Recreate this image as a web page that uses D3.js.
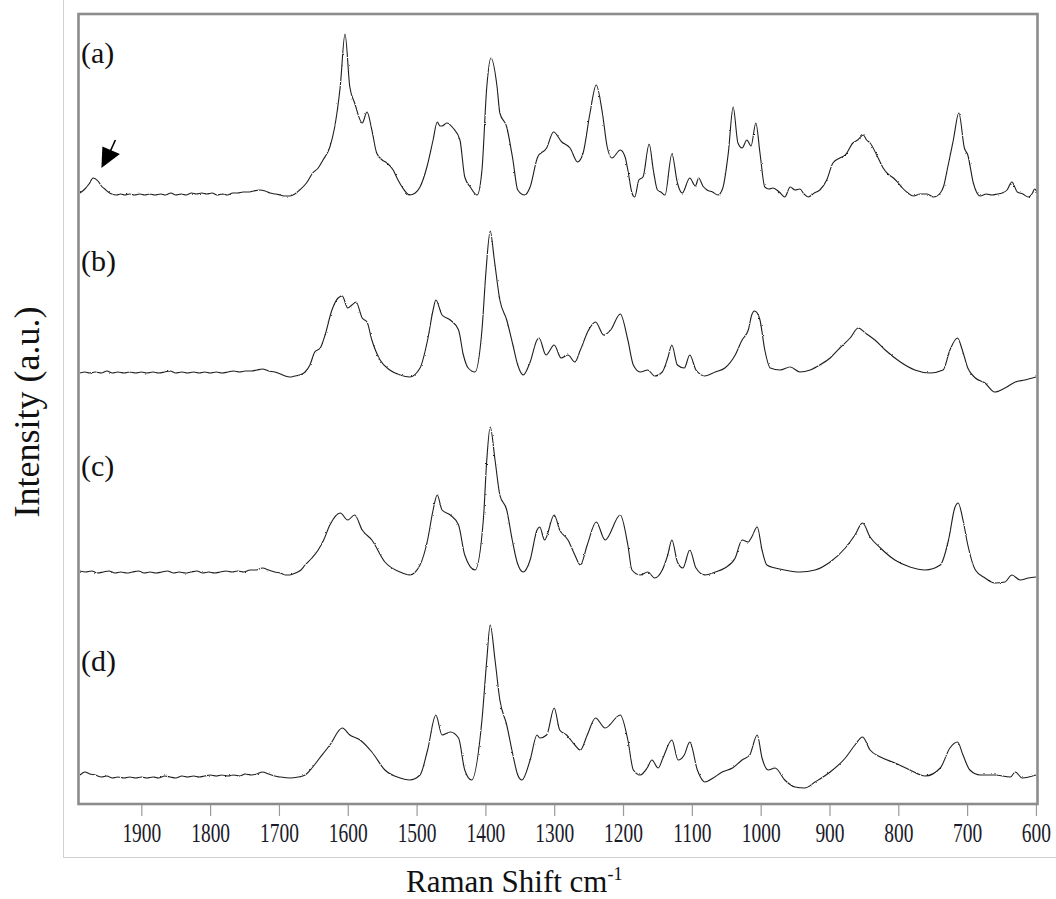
<!DOCTYPE html>
<html>
<head>
<meta charset="utf-8">
<script src="https://cdn.jsdelivr.net/npm/d3@7"></script>
<style>
  body { margin: 0; background: #fff; }
  text { font-family: "Liberation Serif", "Times New Roman", serif; }
</style>
</head>
<body>
<svg id="chart" width="1056" height="899"></svg>
<script>
// Raman spectra (a)–(d): [wavenumber cm-1, intensity a.u. above each trace's own baseline]
const tickValues = [1900, 1800, 1700, 1600, 1500, 1400, 1300, 1200, 1100, 1000, 900, 800, 700, 600];
const panelLabels = ["(a)", "(b)", "(c)", "(d)"];
const stackOffsets = [304, 214, 114, 12];

const spectrumA = [
  [1989,1.5],[1982,3.5],[1976,6],[1970,9],[1963,7.5],[1958,5],[1953,3.5],[1948,2],[1943,1],[1936,0.5],
  [1930,1],[1924,0.5],[1917,1],[1910,0.5],[1902,1],[1895,0.5],[1888,1],[1880,0.5],[1872,1],[1865,0.5],
  [1857,1.5],[1850,0.5],[1842,1],[1835,0.5],[1827,1.5],[1820,1],[1812,1.5],[1805,1],[1797,1.5],[1790,0.5],
  [1782,1],[1775,0.5],[1767,1.5],[1760,1.5],[1752,2],[1745,2],[1737,2.5],[1728,3],[1720,2.5],[1713,1.5],
  [1705,1],[1698,0.5],[1691,0],[1684,0],[1677,1],[1670,3],[1660,6.5],[1651,11.5],[1643,14],[1636,18],
  [1626,24.5],[1619,34.5],[1611,54.5],[1604,81],[1597,54.5],[1590,46.5],[1579,36.5],[1572,42],[1565,33],[1558,21.5],
  [1550,18],[1543,16.5],[1534,13],[1527,8],[1521,4.5],[1510,0.5],[1502,1.5],[1495,4.5],[1485,14.5],[1476,28],
  [1470,37],[1466,35],[1463,35],[1456,36.5],[1447,34],[1437,28],[1430,9.5],[1422,4.5],[1412,0.5],[1405,13],
  [1398,54.5],[1392,69],[1383,54.5],[1379,41.5],[1369,34.5],[1360,18],[1353,3],[1343,0.5],[1335,4.5],[1324,19.5],
  [1311,24],[1301,32],[1289,27],[1277,24],[1266,17],[1258,21.5],[1248,41.5],[1239,55.5],[1230,41.5],[1223,24.5],
  [1216,19],[1204,23],[1197,19.5],[1193,13],[1187,1.5],[1183,-0.5],[1177,8],[1171,9.5],[1162,26],[1156,13],
  [1150,3],[1145,2],[1139,0.5],[1129,21],[1121,6.5],[1114,1.5],[1103,9],[1095,5],[1090,9],[1084,5],
  [1078,3],[1070,2],[1062,0.5],[1055,4],[1047,21.5],[1040,44.5],[1033,26.5],[1027,24],[1020,28],[1014,25],
  [1007,36.5],[1001,21.5],[994,4.5],[988,3.5],[982,4],[973,2],[965,-0.5],[957,4.5],[950,3],[943,3.5],
  [937,1],[931,-0.5],[922,1.5],[914,3],[904,8],[895,16.5],[885,19],[877,20.5],[866,26.5],[859,28],
  [851,30.5],[846,28],[841,26.5],[830,19.5],[822,14],[815,11],[807,9],[800,6.5],[794,4],[786,1.5],
  [778,0],[768,1],[758,1],[749,-0.5],[739,1.5],[734,5],[729,13],[720,28],[712,41.5],[704,24],
  [699,20.5],[691,6.5],[681,0],[672,1],[664,0.5],[656,1],[649,1.5],[642,3],[635,7],[627,2],
  [619,1],[611,-0.5],[605,1.5],[602,3.5],[598,1.5]
];

const spectrumB = [
  [1989,1.5],[1982,2],[1975,1.5],[1967,2],[1958,1.5],[1950,2.5],[1942,1.5],[1934,2],[1925,1.5],[1917,2],
  [1908,1.5],[1900,2],[1892,1.5],[1883,2],[1875,1.5],[1866,2],[1858,2.5],[1850,1.5],[1841,2],[1833,1.5],
  [1824,2],[1816,1.5],[1808,2],[1800,1.5],[1791,2],[1783,1.5],[1774,2],[1766,2.5],[1757,2],[1749,2.5],
  [1740,2.5],[1732,3],[1724,3.5],[1715,2.5],[1706,2],[1698,1],[1691,0],[1684,-0.5],[1677,0],[1670,0.5],
  [1662,2],[1655,5.5],[1648,12],[1640,14],[1633,20.5],[1623,33],[1614,39],[1608,40],[1600,34],[1594,35.5],
  [1588,37],[1579,29],[1572,27],[1565,18],[1553,8],[1539,3],[1524,0.5],[1510,-0.5],[1495,4],[1484,18],
  [1476,33],[1472,38],[1463,30.5],[1451,28],[1439,23],[1432,10.5],[1425,4],[1415,2],[1405,23],[1399,53],
  [1393,72.5],[1387,58],[1379,38],[1369,28],[1360,15.5],[1353,5.5],[1345,0.5],[1335,7],[1325,18],[1322,19],
  [1312,10.5],[1300,15.5],[1290,9],[1280,10.5],[1270,7],[1262,13],[1250,23],[1240,27],[1228,20.5],[1218,23],
  [1204,31],[1193,18],[1185,5.5],[1175,2],[1164,3],[1154,0],[1143,2],[1135,9],[1129,15.5],[1121,5.5],
  [1111,4],[1103,10.5],[1094,3],[1081,0],[1066,2],[1052,4],[1037,10.5],[1027,18],[1018,23],[1013,30.5],
  [1009,32.5],[1005,31.5],[1001,28],[994,13],[986,4],[972,3],[957,4.5],[943,2],[928,3],[914,5.5],
  [899,9],[885,14],[870,19],[858,24],[848,21.5],[834,18],[819,13],[797,7],[776,3],[754,1.5],
  [735,3],[725,13],[714,19],[707,13],[699,4],[688,-1],[674,-3.5],[660,-8],[645,-6],[630,-3],
  [616,-2],[600,-0.5]
];

const spectrumC = [
  [1989,2.5],[1981,2],[1972,2.5],[1964,1.5],[1955,2],[1947,2.5],[1938,1.5],[1930,2],[1921,1.5],[1913,2],
  [1904,2.5],[1896,1.5],[1887,2],[1879,1.5],[1870,2],[1862,2.5],[1853,1.5],[1845,2],[1836,1.5],[1828,2],
  [1819,2.5],[1811,1.5],[1802,2],[1794,1.5],[1785,2],[1777,2.5],[1768,2],[1760,2.5],[1751,2],[1742,3],
  [1733,3],[1724,4],[1715,3],[1706,2],[1698,1.5],[1690,0.5],[1684,0.5],[1676,1.5],[1668,3],[1662,5.5],
  [1652,9],[1643,13],[1635,18],[1626,25.5],[1611,31.5],[1600,28],[1590,30.5],[1579,23],[1565,18],[1546,7],
  [1524,2],[1510,0.5],[1495,5.5],[1484,18],[1476,33],[1470,40.5],[1463,33],[1451,30.5],[1439,25.5],[1430,10.5],
  [1415,3],[1403,28],[1398,58],[1393,74.5],[1386,58],[1379,40.5],[1369,33],[1361,18],[1354,7],[1345,2],
  [1335,8],[1325,23],[1321,24.5],[1314,18],[1300,30.5],[1292,23],[1280,18],[1270,10.5],[1262,5.5],[1252,15.5],
  [1239,27],[1226,18],[1204,30.5],[1193,15.5],[1187,3],[1175,0.5],[1164,2],[1154,-1],[1143,3],[1135,10.5],
  [1129,18],[1121,7],[1113,4],[1103,13],[1094,4],[1081,0.5],[1066,2],[1052,4],[1037,9],[1027,18],
  [1018,17],[1013,19.5],[1005,24.5],[998,13],[991,5.5],[979,4],[965,3],[943,2],[921,3],[899,7],
  [877,14],[863,20.5],[852,26.5],[841,19.5],[826,14],[805,8],[783,4.5],[761,3],[739,5.5],[727,18],
  [718,34],[713,36.5],[706,28],[699,15.5],[688,3],[674,-1],[660,-3.5],[645,-3],[635,0.5],[623,-2],
  [611,-1],[600,-0.5]
];

const spectrumD = [
  [1989,2.5],[1982,4],[1975,3],[1967,2.5],[1958,1.5],[1950,2],[1942,1],[1934,1.5],[1925,1],[1917,1.5],
  [1908,1],[1900,1.5],[1892,1],[1883,1.5],[1875,1],[1866,2],[1858,1.5],[1850,1],[1841,2],[1833,1.5],
  [1824,2],[1816,1.5],[1808,2],[1800,2.5],[1791,2],[1783,2.5],[1774,2],[1766,2.5],[1757,2],[1749,3],
  [1740,2.5],[1732,3],[1724,4],[1715,3],[1706,2],[1698,1.5],[1684,1],[1672,1.5],[1662,2.5],[1652,6],
  [1643,10],[1626,17.5],[1608,26],[1597,22.5],[1582,20],[1565,14],[1546,5],[1524,1],[1510,0],[1495,2.5],
  [1484,15],[1472,32.5],[1463,22.5],[1451,24],[1439,21],[1430,5],[1420,0],[1405,30],[1398,60],[1393,77.5],
  [1386,60],[1379,40],[1369,27.5],[1360,12.5],[1353,2.5],[1347,0],[1335,10],[1325,22.5],[1321,21],[1311,22.5],
  [1300,36],[1292,25],[1282,22.5],[1270,17.5],[1262,15],[1252,22.5],[1240,31],[1226,26],[1204,32.5],[1193,20],
  [1185,5],[1175,2.5],[1165,6],[1158,10],[1149,6],[1142,11],[1129,20],[1120,10],[1111,12.5],[1103,19],
  [1092,5],[1081,-1],[1069,1],[1056,4],[1041,6],[1027,10],[1016,12.5],[1005,22.5],[998,11],[989,5],
  [979,6],[965,0],[950,-3.5],[936,-4],[921,-1],[899,4],[877,11],[863,17.5],[852,21.5],[841,15],
  [826,11.5],[805,8.5],[783,5],[761,2],[739,6],[725,16],[714,19],[706,12.5],[696,5],[681,2.5],
  [660,2.5],[637,1.5],[630,4],[620,1],[600,2.5]
];

const spectra = [spectrumA, spectrumB, spectrumC, spectrumD];

const svg = d3.select("#chart");
const plot = { left: 78.5, right: 1037.5, top: 14, bottom: 804 };

const x = d3.scaleLinear().domain([1992, 597]).range([78, 1038]);
const y = d3.scaleLinear().domain([0, 395.5]).range([804, 13]);

const defs = svg.append("defs");

// detector-noise texture applied to the spectrum strokes
const grain = defs.append("filter").attr("id", "grain")
  .attr("filterUnits", "userSpaceOnUse")
  .attr("x", 0).attr("y", 0).attr("width", 1056).attr("height", 899);
grain.append("feTurbulence").attr("type", "fractalNoise")
  .attr("baseFrequency", "0.55 0.9").attr("numOctaves", 1).attr("seed", 7).attr("result", "noise");
grain.append("feDisplacementMap").attr("in", "SourceGraphic").attr("in2", "noise")
  .attr("scale", 2.2).attr("xChannelSelector", "R").attr("yChannelSelector", "G");

defs.append("clipPath").attr("id", "plot-clip")
  .append("rect").attr("x", plot.left).attr("y", plot.top)
  .attr("width", plot.right - plot.left).attr("height", plot.bottom - plot.top);

// faint page rules to the left and below the plot
svg.append("line").attr("x1", 63.5).attr("x2", 63.5).attr("y1", 0).attr("y2", 857.5)
  .attr("stroke", "#d0d0d0").attr("stroke-width", 1);
svg.append("line").attr("x1", 63).attr("x2", 1056).attr("y1", 857.5).attr("y2", 857.5)
  .attr("stroke", "#d0d0d0").attr("stroke-width", 1);

const line = d3.line()
  .x(d => x(d[0]))
  .y(d => d[1])
  .curve(d3.curveMonotoneX);

const traces = svg.append("g").attr("clip-path", "url(#plot-clip)")
  .append("g").attr("filter", "url(#grain)");
spectra.forEach((s, i) => {
  traces.append("path")
    .datum(s.map(p => [p[0], y(p[1] + stackOffsets[i])]))
    .attr("fill", "none")
    .attr("stroke", "#1e1e1e")
    .attr("stroke-width", 1.1)
    .attr("stroke-linejoin", "round")
    .attr("d", line);
});

// x axis
const xAxis = d3.axisBottom(x).tickValues(tickValues).tickFormat(d3.format("d"))
  .tickSize(12).tickPadding(7).tickSizeOuter(0);
const ax = svg.append("g").attr("transform", `translate(0,${plot.bottom})`).call(xAxis);
ax.select(".domain").remove();
ax.selectAll(".tick line").attr("stroke", "#9a9a9a").attr("stroke-width", 1.2);
ax.selectAll(".tick text")
  .attr("fill", "#1a1a2a")
  .style("font-family", "'Liberation Serif', serif")
  .style("font-size", "27px")
  .attr("transform", "scale(0.72,1)");

// plot frame
svg.append("rect")
  .attr("x", plot.left).attr("y", plot.top)
  .attr("width", plot.right - plot.left).attr("height", plot.bottom - plot.top)
  .attr("fill", "none").attr("stroke", "#8c8c8c").attr("stroke-width", 2.6);

// panel letters
const labelBaselines = [63, 271, 476, 671];
panelLabels.forEach((t, i) => {
  svg.append("text").attr("x", 81).attr("y", labelBaselines[i])
    .attr("font-size", 30).attr("fill", "#111").text(t);
});

// arrow marking the weak band near 1960 cm-1 in (a)
const tipX = x(1958), tipY = y(stackOffsets[0] + 14);
svg.append("path")
  .attr("d", `M${tipX},${tipY} L${tipX + 1},${tipY - 21.5} L${tipX + 18.5},${tipY - 14} Z`)
  .attr("fill", "#000");
svg.append("line")
  .attr("x1", tipX + 9).attr("y1", tipY - 17)
  .attr("x2", tipX + 14).attr("y2", tipY - 28)
  .attr("stroke", "#000").attr("stroke-width", 1.6);

// axis titles
const xt = svg.append("text").attr("x", 406).attr("y", 892)
  .attr("font-size", 31).attr("fill", "#111");
xt.append("tspan").text("Raman Shift cm");
xt.append("tspan").attr("dy", -12).attr("font-size", 18).text("-1");

svg.append("text")
  .attr("transform", "translate(39,412) rotate(-90)")
  .attr("text-anchor", "middle")
  .attr("font-size", 36).attr("fill", "#111")
  .text("Intensity (a.u.)");
</script>
</body>
</html>
